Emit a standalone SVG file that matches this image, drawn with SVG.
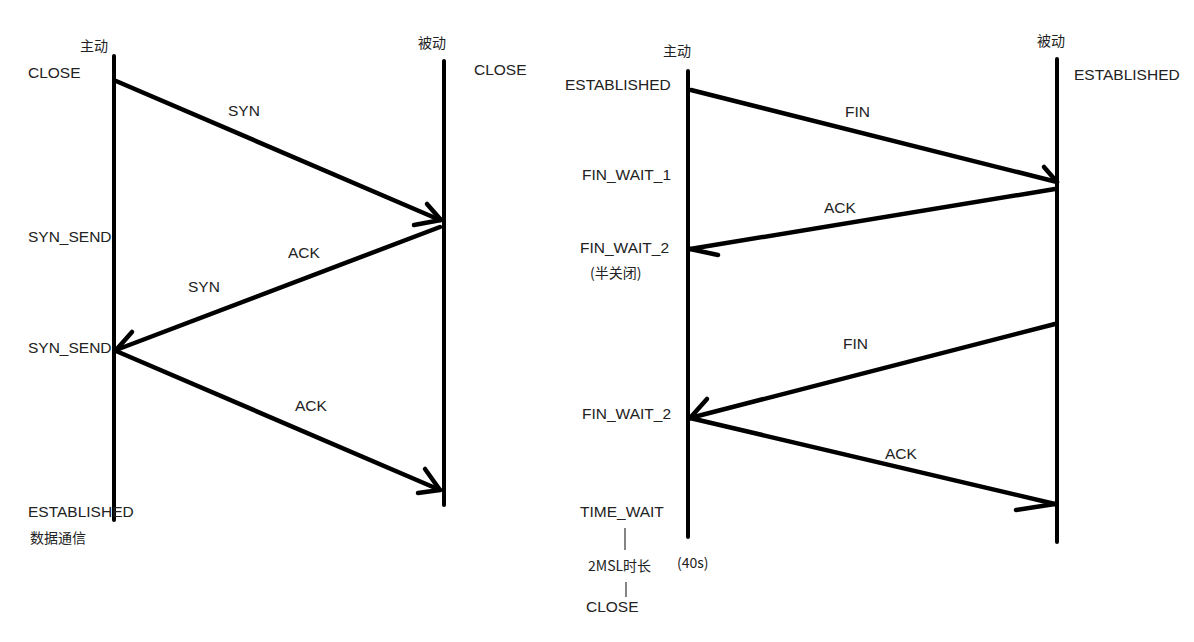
<svg xmlns="http://www.w3.org/2000/svg" width="1194" height="642" viewBox="0 0 1194 642">
<style>
.t{font-family:"Liberation Sans","Noto Sans CJK SC",sans-serif;font-size:15.5px;fill:#222}
.c{font-family:"Noto Sans CJK SC","Liberation Sans",sans-serif;font-size:14px;fill:#222}
.life{stroke:#000;stroke-width:4;fill:none;stroke-linecap:round}
.msg{stroke:#000;stroke-width:4.5;fill:none;stroke-linecap:round;stroke-linejoin:round}
.tick{stroke:#333;stroke-width:1.2}
</style>
<rect width="1194" height="642" fill="#fff"/>
<g id="left-active">
<text class="c" x="80" y="51">主动</text>
<line class="life" x1="114" y1="56" x2="114" y2="520"/>
<text class="t" x="28" y="78">CLOSE</text>
<text class="t" x="28" y="242">SYN_SEND</text>
<text class="t" x="28" y="353">SYN_SEND</text>
<text class="t" x="28" y="517">ESTABLISHED</text>
<text class="c" x="30" y="543">数据通信</text>
</g>
<g id="left-passive">
<text class="c" x="418" y="48">被动</text>
<line class="life" x1="444" y1="61" x2="444" y2="505"/>
<text class="t" x="474" y="75">CLOSE</text>
</g>
<g id="right-active">
<text class="c" x="663" y="56">主动</text>
<line class="life" x1="688" y1="71" x2="688" y2="537"/>
<text class="t" x="565" y="90">ESTABLISHED</text>
<text class="t" x="582" y="180">FIN_WAIT_1</text>
<text class="t" x="580" y="253">FIN_WAIT_2</text>
<text class="c" x="590" y="278">(半关闭)</text>
<text class="t" x="582" y="419">FIN_WAIT_2</text>
<text class="t" x="580" y="517">TIME_WAIT</text>
<line class="tick" x1="625" y1="528" x2="625" y2="550"/>
<text class="c" x="588" y="571">2MSL时长</text>
<text class="c" x="677" y="568">(40s)</text>
<line class="tick" x1="626" y1="582" x2="626" y2="597"/>
<text class="t" x="586" y="612">CLOSE</text>
</g>
<g id="right-passive">
<text class="c" x="1037" y="46">被动</text>
<line class="life" x1="1057" y1="59" x2="1057" y2="542"/>
<text class="t" x="1074" y="80">ESTABLISHED</text>
</g>
<g id="connectors">
<polyline class="msg" points="116,81 440,220"/>
<polyline class="msg" points="427,204 441,220 414,225"/>
<text class="t" x="228" y="116">SYN</text>
<polyline class="msg" points="440,227 116,350"/>
<polyline class="msg" points="132,332 116,350"/>
<text class="t" x="288" y="258">ACK</text>
<text class="t" x="188" y="292">SYN</text>
<polyline class="msg" points="116,351 440,490"/>
<polyline class="msg" points="425,469 440,490 418,493"/>
<text class="t" x="295" y="411">ACK</text>
<polyline class="msg" points="691,90 1057,182"/>
<polyline class="msg" points="1044,167 1057,182"/>
<text class="t" x="845" y="117">FIN</text>
<polyline class="msg" points="1055,189 690,249"/>
<polyline class="msg" points="690,249 718,255"/>
<text class="t" x="824" y="213">ACK</text>
<polyline class="msg" points="1055,324 690,418"/>
<polyline class="msg" points="707,399 690,418"/>
<text class="t" x="843" y="349">FIN</text>
<polyline class="msg" points="690,418 1055,504"/>
<polyline class="msg" points="1016,510 1055,504"/>
<text class="t" x="885" y="459">ACK</text>
</g>
</svg>
